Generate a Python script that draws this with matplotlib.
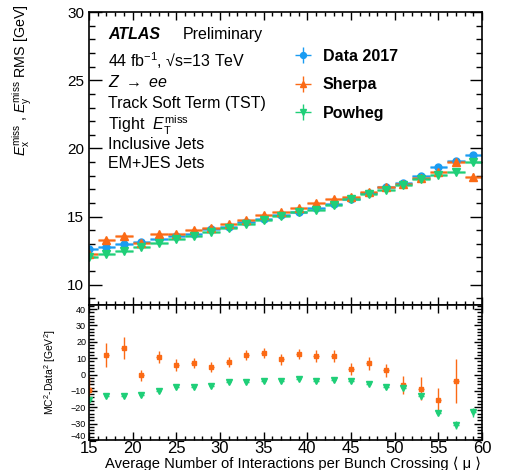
import numpy as np
import matplotlib
matplotlib.use('Agg')
import matplotlib.pyplot as plt
from matplotlib.ticker import MultipleLocator
from matplotlib.transforms import ScaledTranslation

plt.rcParams['font.family'] = ['Liberation Sans', 'DejaVu Sans']
plt.rcParams['mathtext.fontset'] = 'custom'
plt.rcParams['mathtext.rm'] = 'Liberation Sans'
plt.rcParams['mathtext.it'] = 'Liberation Sans:italic'

# binning in <mu>, 2 units wide
mu = np.arange(15, 60, 2)

data_rms = [12.64, 12.76, 12.95, 13.15, 13.35, 13.54, 13.74, 14.08, 14.23, 14.62, 14.81, 15.08,
            15.36, 15.62, 15.93, 16.29, 16.72, 17.13, 17.47, 18.01, 18.67, 19.10, 19.49]
sherpa_rms = [12.25, 13.25, 13.54, 13.08, 13.74, 13.71, 13.98, 14.18, 14.45, 14.78, 15.11, 15.30,
              15.64, 15.98, 16.27, 16.42, 16.83, 17.19, 17.39, 17.82, 18.26, 19.03, 17.89]
powheg_rms = [12.03, 12.27, 12.44, 12.73, 13.03, 13.35, 13.54, 13.83, 14.12, 14.47, 14.74, 15.03,
              15.30, 15.49, 15.86, 16.27, 16.64, 16.96, 17.32, 17.74, 18.08, 18.29, 18.99]
data_err = [0.03] * 23
sherpa_err = [0.2, 0.2, 0.2, 0.1, 0.12, 0.1, 0.1, 0.1, 0.1, 0.1, 0.1, 0.1,
              0.1, 0.1, 0.1, 0.12, 0.12, 0.12, 0.15, 0.2, 0.2, 0.3, 0.3]
powheg_err = [0.05] * 21 + [0.07, 0.08]

# MC^2 - Data^2 [GeV^2]
sherpa_diff = [-9.2, 11.9, 16.0, -0.4, 10.8, 5.9, 7.1, 4.7, 7.4, 11.9, 12.9, 9.2,
               12.5, 11.3, 11.4, 3.3, 6.8, 2.6, -6.6, -8.6, -15.8, -4.1, np.nan]
sherpa_diff_err = [8.0, 7.2, 6.8, 3.3, 3.5, 3.5, 3.2, 3.2, 3.1, 3.3, 3.1, 3.3,
                   3.3, 3.6, 3.5, 3.8, 3.9, 4.1, 5.6, 7.0, 7.5, 13.6, 0]
powheg_diff = [-15.4, -13.4, -13.4, -12.3, -10.3, -7.4, -7.4, -6.8, -4.7, -4.5, -4.1, -3.9,
               -2.5, -3.7, -3.3, -3.7, -5.5, -7.8, -8.0, -13.4, -23.4, -30.8, -23.2]
powheg_diff_err = [1.2] * 19 + [1.4, 1.6, 2.5, 2.5]

c_data = '#1a9cf2'
c_sherpa = '#fb6a15'
c_powheg = '#1fcf78'

fig = plt.figure(figsize=(5.08, 4.70), dpi=100)
ax = fig.add_axes([0.175, 0.351, 0.774, 0.623])
ax2 = fig.add_axes([0.175, 0.064, 0.774, 0.287], sharex=ax)

series = [
    (data_rms, data_err, c_data, 'o', 5, 'Data 2017'),
    (sherpa_rms, sherpa_err, c_sherpa, '^', 5.5, 'Sherpa'),
    (powheg_rms, powheg_err, c_powheg, 'v', 5.5, 'Powheg'),
]
handles = []
for vals, err, col, mk, ms, lab in series:
    ax.errorbar(mu, vals, xerr=1, fmt='none', ecolor=col, elinewidth=2.2, alpha=0.55)
    h = ax.errorbar(mu, vals, yerr=err, xerr=1, fmt=mk, color=col, ms=ms,
                    elinewidth=1.0, capsize=0, label=lab)
    handles.append(h)

ax2.errorbar(mu, sherpa_diff, yerr=sherpa_diff_err, xerr=0.3, fmt='s', color=c_sherpa,
             ms=3.2, elinewidth=1.0, capsize=0)
ax2.errorbar(mu, powheg_diff, yerr=powheg_diff_err, xerr=0.3, fmt='v', color=c_powheg,
             ms=3.8, elinewidth=1.0, capsize=0)

ax.set_xlim(15, 60)
ax.set_ylim(8.5, 30)
ax2.set_ylim(-40, 42.5)

ax.xaxis.set_major_locator(MultipleLocator(5))
ax.xaxis.set_minor_locator(MultipleLocator(1))
ax.yaxis.set_major_locator(MultipleLocator(5))
ax.yaxis.set_minor_locator(MultipleLocator(1))
ax2.set_yticks(np.arange(-40, 41, 10))
ax2.yaxis.set_minor_locator(MultipleLocator(2))

for a in (ax, ax2):
    a.tick_params(which='both', direction='in', top=True, right=True, width=1.0)
    for s in a.spines.values():
        s.set_linewidth(1.2)
ax.tick_params(axis='y', which='major', length=9, labelsize=11)
ax.tick_params(axis='y', which='minor', length=4.5)
ax.tick_params(axis='x', which='major', length=6)
ax.tick_params(axis='x', which='minor', length=3)
ax.tick_params(axis='x', labelbottom=False)
ax2.tick_params(axis='y', which='major', length=6, labelsize=6.5, pad=2)
ax2.tick_params(axis='y', which='minor', length=3.5)
ax2.tick_params(axis='x', which='major', length=6, labelsize=12, pad=0.5)
ax2.tick_params(axis='x', which='minor', length=3)

# lift the bottom ratio label a little so it clears the "15"
lab0 = ax2.yaxis.get_major_ticks()[0].label1
lab0.set_transform(lab0.get_transform() + ScaledTranslation(0, 3 / 72, fig.dpi_scale_trans))

fig.text(0.043, 0.99, r'$E_{\mathrm{x}}^{\mathrm{miss}}$ , $E_{\mathrm{y}}^{\mathrm{miss}}$ RMS [GeV]',
         rotation=90, ha='center', va='top', fontsize=10.3)
ax2.set_ylabel(r'MC$^2$-Data$^2$ [GeV$^2$]', fontsize=7.5, labelpad=9)
fig.text(0.947, 0.0125, 'Average Number of Interactions per Bunch Crossing ⟨ μ ⟩',
         ha='right', va='center', fontsize=10.6)

tx = 0.213
fs = 11.5
fig.text(tx, 0.927, 'ATLAS', fontsize=fs, fontweight='bold', style='italic', va='center')
fig.text(0.360, 0.927, 'Preliminary', fontsize=fs, va='center')
fig.text(tx, 0.872, r'44 fb$^{\mathrm{-1}}$, √s=13 TeV', fontsize=fs, va='center')
fig.text(tx, 0.826, r'$Z$ $\rightarrow$ $ee$', fontsize=fs, va='center')
fig.text(tx, 0.779, 'Track Soft Term (TST)', fontsize=fs, va='center')
fig.text(tx, 0.734, r'Tight  $E_{\mathrm{T}}^{\mathrm{miss}}$', fontsize=fs, va='center')
fig.text(tx, 0.693, 'Inclusive Jets', fontsize=fs, va='center')
fig.text(tx, 0.652, 'EM+JES Jets', fontsize=fs, va='center')

ax.legend(handles=handles, loc='upper left', bbox_to_anchor=(0.504, 0.875), frameon=False,
          prop={'size': 11.5, 'weight': 'bold'}, handlelength=2.0, labelspacing=0.85,
          handletextpad=0.25, borderpad=0, borderaxespad=0, markerscale=0.85)

fig.savefig('out.png', dpi=100)
